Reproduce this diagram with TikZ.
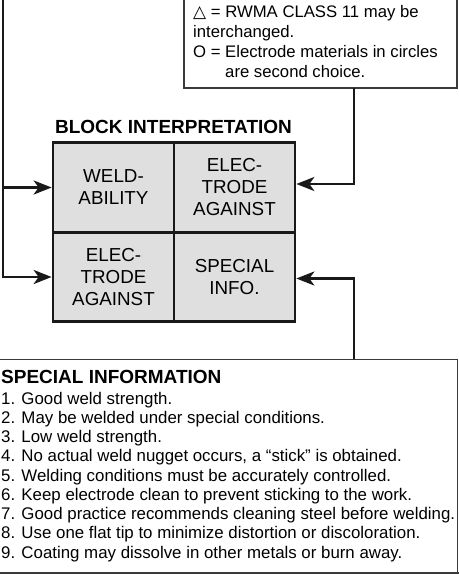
\documentclass[tikz,border=0pt]{standalone}
\usepackage{fontspec}
\setmainfont{Liberation Sans}
\newfontfamily\symfont{DejaVu Sans}
\usetikzlibrary{arrows.meta}
\definecolor{cellfill}{HTML}{DFDFDF}
\definecolor{boxline}{HTML}{3A3A3A}
\begin{document}
\begin{tikzpicture}[x=1pt,y=-1pt,
  conn/.style={line width=2.7pt, draw=black!90},
  arr/.style={conn, -{Stealth[length=18pt,width=14pt,inset=5pt]}},
  cell/.style={draw=black!90, line width=2.7pt, fill=cellfill, minimum width=121pt, minimum height=89.5pt, inner sep=0pt, align=center, font=\fontsize{18.8}{22}\selectfont},
  note/.style={anchor=base west, inner sep=0pt, font=\fontsize{16.7}{19.7}\selectfont},
  item/.style={anchor=base west, inner sep=0pt, font=\fontsize{16.85}{19.25}\selectfont},
  head/.style={anchor=base, inner sep=0pt, font=\bfseries\fontsize{19}{22}\selectfont},
  frame/.style={draw=boxline, line width=1.4pt}]
\useasboundingbox (0,0) rectangle (458,575);

% top legend box
\draw[frame] (184,-2) -- (184,88) -- (457,88) -- (457,-2);
\node[note] (n1) at (193,18) {{\symfont\fontsize{17}{17}\selectfont △} = RWMA CLASS 11 may be};
\node[note] (n2) at (193,37.7) {interchanged.};
\node[note] (n3) at (193,57.4) {O = Electrode materials in circles};
\node[note] (n4) at (193,77.1) {\phantom{O = }are second choice.};

% block interpretation
\node[head] (bt) at (173.5,133) {BLOCK INTERPRETATION};
\node[cell] (c11) at (113.5,187.5) {WELD-\\ABILITY};
\node[cell] (c12) at (234.5,187.5) {ELEC-\\TRODE\\AGAINST};
\node[cell] (c21) at (113.5,277) {ELEC-\\TRODE\\AGAINST};
\node[cell] (c22) at (234.5,277) {SPECIAL\\INFO.};

% special information box
\draw[frame, line width=1pt] (-2,359) -- (457,359) -- (457,573);
\draw[draw=boxline, line width=2.2pt] (-2,573) -- (460,573);
\node[head, anchor=base west] (sh) at (1,383) {SPECIAL INFORMATION};
\node[item] (s1) at (1,404) {1. Good weld strength.};
\node[item] (s2) at (1,423.25) {2. May be welded under special conditions.};
\node[item] (s3) at (1,442.5) {3. Low weld strength.};
\node[item] (s4) at (1,461.75) {4. No actual weld nugget occurs, a “stick” is obtained.};
\node[item] (s5) at (1,481) {5. Welding conditions must be accurately controlled.};
\node[item] (s6) at (1,500.25) {6. Keep electrode clean to prevent sticking to the work.};
\node[item] (s7) at (1,519.5) {7. Good practice recommends cleaning steel before welding.};
\node[item] (s8) at (1,538.75) {8. Use one flat tip to minimize distortion or discoloration.};
\node[item] (s9) at (1,558) {9. Coating may dissolve in other metals or burn away.};

% connectors
\coordinate (L0) at (3,-2);
\coordinate (T0) at (354,88);
\coordinate (S0) at (354,359);
\draw[arr] (L0) |- (c11.west);
\draw[arr] (L0) |- (c21.west);
\draw[arr] (T0) |- ([yshift=3.5pt]c12.east);
\draw[arr] (S0) |- ([yshift=-1.5pt]c22.east);
\end{tikzpicture}
\end{document}
